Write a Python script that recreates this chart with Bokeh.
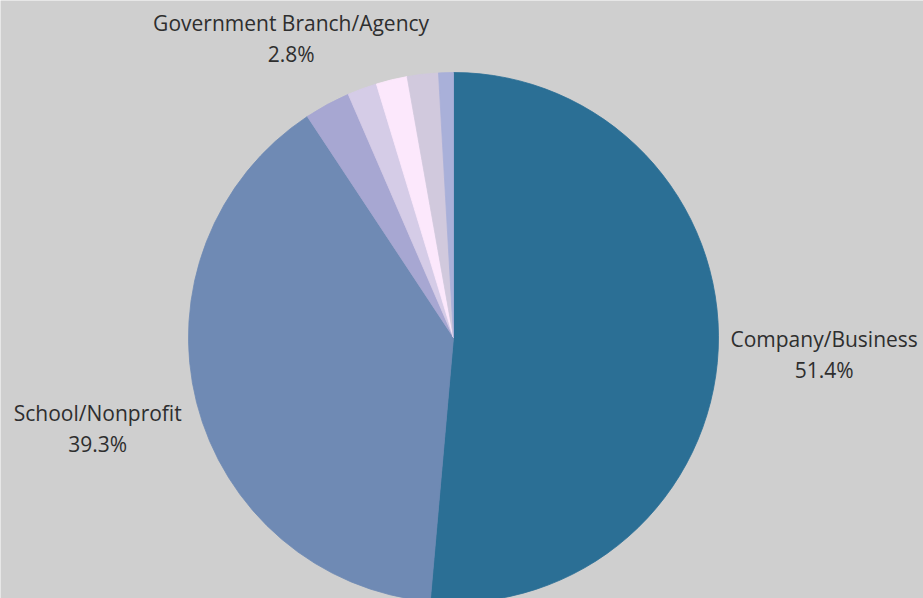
import math
from bokeh.plotting import figure
from bokeh.models import ColumnDataSource
from bokeh.core.properties import value
from bokeh.embed import file_html
from bokeh.resources import INLINE

# ---- data (clockwise from 12 o'clock) ----
categories = ["Company/Business", "School/Nonprofit", "Government Branch/Agency",
              "Other A", "Other B", "Other C", "Other D"]
shares = [51.4, 39.3, 2.8, 1.8, 1.9, 1.9, 0.9]
colors = ["#2B6F95", "#6F8AB4", "#A7A7D2", "#D5CCE7", "#FCE8FC", "#D1C9DD", "#A9B0D9"]
labelled = ["Company/Business", "School/Nonprofit", "Government Branch/Agency"]
label_radius = [371, 367, 341]

W, H = 923, 598
cx, cy, R = 453, 598 - 337, 265

total = sum(shares)
starts, ends = [], []
cum = 0.0
for s in shares:
    starts.append(math.pi / 2 - cum / total * 2 * math.pi)
    cum += s
    ends.append(math.pi / 2 - cum / total * 2 * math.pi)

src = ColumnDataSource(dict(start=starts, end=ends, color=colors, cat=categories))

p = figure(width=W, height=H, x_range=(0, W), y_range=(0, H),
           output_backend="svg", toolbar_location=None, min_border=0)
p.axis.visible = False
p.grid.visible = False
p.outline_line_color = None
p.background_fill_color = "#CFCFCF"
p.border_fill_color = "#CFCFCF"

p.wedge(x=cx, y=cy, radius=R, start_angle="start", end_angle="end",
        direction="clock", fill_color="color", line_color="color",
        line_width=0.8, source=src)

# labels
lx, ly_name, ly_pct, names, pcts = [], [], [], [], []
cum = 0.0
for cat, s in zip(categories, shares):
    mid = (cum + s / 2) / total * 2 * math.pi  # clockwise from top
    cum += s
    if cat in labelled:
        r = label_radius[labelled.index(cat)]
        x = cx + r * math.sin(mid)
        y = cy + r * math.cos(mid)
        lx.append(x)
        ly_name.append(y + 15)
        ly_pct.append(y - 16)
        names.append(cat)
        pcts.append(f"{s:.1f}%")

p.text(x=lx, y=ly_name, text=names, text_font=value("Open Sans"),
       text_font_size="21px", text_color="#2E2E2E",
       text_align="center", text_baseline="middle")
p.text(x=lx, y=ly_pct, text=pcts, text_font=value("Open Sans"),
       text_font_size="21px", text_color="#2E2E2E",
       text_align="center", text_baseline="middle")

open("out.html", "w").write(file_html(p, INLINE))
